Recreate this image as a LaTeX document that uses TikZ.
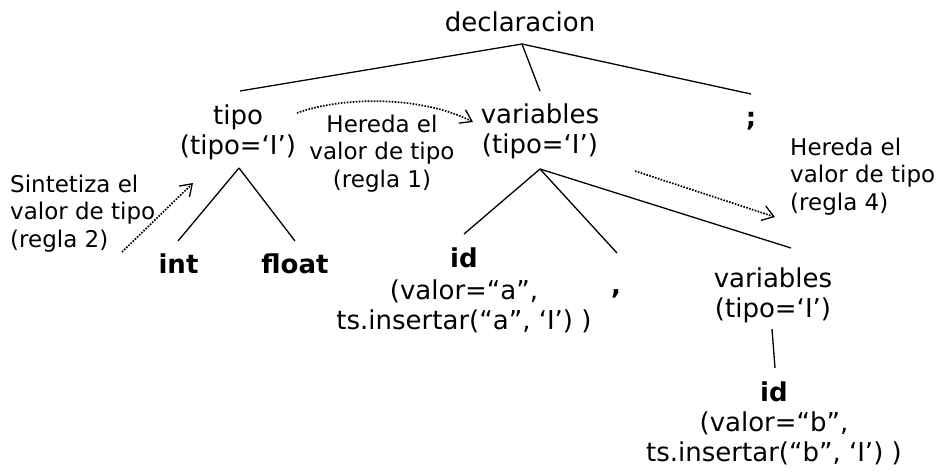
\documentclass[tikz,border=0pt]{standalone}
\usepackage{fontspec}
\setmainfont{DejaVu Sans}
\usetikzlibrary{arrows.meta}

\tikzset{
    arbol/.style={font=\fontsize{26}{30}\selectfont, align=center, inner sep=0pt},
    terminal/.style={arbol, font=\fontsize{26}{30}\selectfont\bfseries},
    nota/.style={font=\fontsize{23}{27.5}\selectfont, inner sep=0pt},
    rama/.style={line width=1.3pt},
    regla/.style={line width=1.7pt, dash pattern=on 1.6pt off 1.4pt,
        -{Straight Barb[length=11pt, width=15pt, line width=1.3pt]}}
}

\begin{document}
\begin{tikzpicture}[x=1pt, y=-1pt]
            \useasboundingbox (0,0) rectangle (941,472);

            %Nodes
            \node[arbol, anchor=north] (declaracion) at (520,12) {declaracion};
            \node[arbol, anchor=north] (tipo) at (238,105) {tipo\\(tipo=‘I’)};
            \node[arbol, anchor=north] (variables) at (540,104) {variables\\(tipo=‘I’)};
            \node[terminal, anchor=base] (puntocoma) at (751,126) {;};
            \node[terminal, anchor=base] (int) at (178.5,273) {int};
            \node[terminal, anchor=base] (float) at (295,273) {float};
            \node[arbol, anchor=north] (ida) at (464,248) {{\bfseries id}\\[2pt](valor=“a”,\\ts.insertar(“a”, ‘I’) )};
            \node[terminal, anchor=base] (coma) at (616,294) {,};
            \node[arbol, anchor=north] (variables2) at (773,268) {variables\\(tipo=‘I’)};
            \node[arbol, anchor=north] (idb) at (774,382) {{\bfseries id}\\(valor=“b”,\\ts.insertar(“b”, ‘I’) )};

            %Edges
                %Junction points of the tree
            \coordinate (declaracion-b) at (522,44);
            \coordinate (tipo-t) at (240,91);
            \coordinate (tipo-b) at (239,168);
            \coordinate (variables-t) at (540,91);
            \coordinate (variables-b) at (540,169);
            \coordinate (puntocoma-t) at (751,94);
            \coordinate (int-t) at (178,241);
            \coordinate (float-t) at (295,241);
            \coordinate (ida-t) at (464,234);
            \coordinate (coma-t) at (617,253);
            \coordinate (variables2-t) at (791,248);
            \coordinate (variables2-b) at (772,329);
            \coordinate (idb-t) at (775,368);

            \draw[rama] (declaracion-b) -- (tipo-t);
            \draw[rama] (declaracion-b) -- (variables-t);
            \draw[rama] (declaracion-b) -- (puntocoma-t);

            \draw[rama] (tipo-b) -- (int-t);
            \draw[rama] (tipo-b) -- (float-t);

            \draw[rama] (variables-b) -- (ida-t);
            \draw[rama] (variables-b) -- (coma-t);
            \draw[rama] (variables-b) -- (variables2-t);

            \draw[rama] (variables2-b) -- (idb-t);

            %Labels
            \node[nota, align=center, anchor=north] (regla1) at (382,114.5) {Hereda el\\valor de tipo\\(regla 1)};
            \node[nota, align=left, anchor=north west] (regla2) at (10,174.5) {Sintetiza el\\valor de tipo\\(regla 2)};
            \node[nota, align=left, anchor=north west] (regla4) at (790,137.5) {Hereda el\\valor de tipo\\(regla 4)};

                %Dotted arrows
            \coordinate (regla1-a) at (297,113);
            \coordinate (regla1-b) at (473,122);
            \coordinate (regla2-a) at (122,252);
            \coordinate (regla2-b) at (193,183);
            \coordinate (regla4-a) at (635,171);
            \coordinate (regla4-b) at (775,217);

            \draw[regla] (regla1-a) .. controls (340,97) and (420,95) .. (regla1-b);
            \draw[regla] (regla2-a) -- (regla2-b);
            \draw[regla] (regla4-a) -- (regla4-b);

\end{tikzpicture}
\end{document}
